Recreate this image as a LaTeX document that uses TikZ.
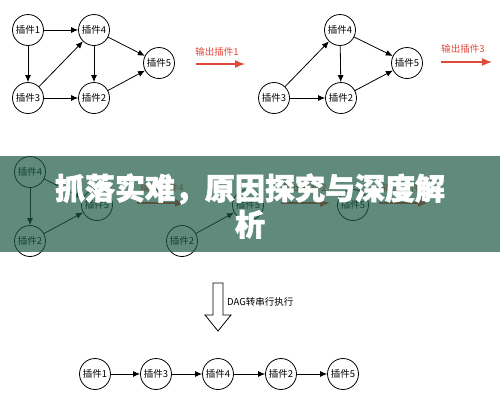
\documentclass[tikz,border=0pt]{standalone}
\usepackage{fontspec}
\setmainfont{Noto Sans CJK SC}
\newfontfamily\titlefont[BoldFeatures={FakeBold=2}]{Noto Sans CJK SC}
\usetikzlibrary{arrows.meta}
\definecolor{outred}{RGB}{224,72,58}
\definecolor{bandgreen}{RGB}{28,90,68}
\tikzset{
  plug/.style={circle, draw, line width=0.8pt, minimum size=31pt, inner sep=0pt, font=\fontsize{9.5}{10}\selectfont},
  dep/.style={-{Latex[length=7pt,width=6pt]}, line width=0.8pt},
  outarrow/.style={outred, -{Latex[length=10pt,width=8pt]}, line width=1.4pt},
  outlabel/.style={outred, font=\fontsize{9.5}{10}\selectfont, inner sep=0pt},
}
\begin{document}
\begin{tikzpicture}[x=1pt,y=-1pt]
\useasboundingbox (0,0) rectangle (500,408);
% ---- top left graph
\node[plug] (a1) at (28,30) {插件1};
\node[plug] (a4) at (94,30) {插件4};
\node[plug] (a5) at (159,63) {插件5};
\node[plug] (a3) at (28,98) {插件3};
\node[plug] (a2) at (94,98) {插件2};
\draw[dep] (a1) -- (a4);
\draw[dep] (a1) -- (a3);
\draw[dep] (a3) -- (a4);
\draw[dep] (a4) -- (a2);
\draw[dep] (a3) -- (a2);
\draw[dep] (a4) -- (a5);
\draw[dep] (a2) -- (a5);
\node[outlabel] (la) at (217,52) {输出插件1};
\coordinate (sa) at (196,64);
\coordinate (ea) at (245,64);
\draw[outarrow] (sa) -- (ea);
% ---- top right graph
\node[plug] (b4) at (340,30) {插件4};
\node[plug] (b5) at (407,63) {插件5};
\node[plug] (b3) at (274,98) {插件3};
\node[plug] (b2) at (341,98) {插件2};
\draw[dep] (b3) -- (b4);
\draw[dep] (b4) -- (b2);
\draw[dep] (b3) -- (b2);
\draw[dep] (b4) -- (b5);
\draw[dep] (b2) -- (b5);
\node[outlabel] (lb) at (463,49) {输出插件3};
\coordinate (sb) at (441,62);
\coordinate (eb) at (492,62);
\draw[outarrow] (sb) -- (eb);
% ---- row under the band
\node[plug] (c4) at (30,172) {插件4};
\node[plug] (c5) at (97,205) {插件5};
\node[plug] (c2) at (30,241) {插件2};
\draw[dep] (c4) -- (c2);
\draw[dep] (c4) -- (c5);
\draw[dep] (c2) -- (c5);
\node[outlabel] (lc) at (162,188) {输出插件4};
\coordinate (sc) at (137,203);
\coordinate (ec) at (185,203);
\draw[outarrow] (sc) -- (ec);
\node[plug] (d5) at (248,205) {插件5};
\node[plug] (d2) at (182,241) {插件2};
\draw[dep] (d2) -- (d5);
\node[outlabel] (ld) at (305,188) {输出插件2};
\coordinate (sd) at (281,203);
\coordinate (ed) at (330,203);
\draw[outarrow] (sd) -- (ed);
\node[plug] (e5) at (353,205) {插件5};
\node[outlabel] (le) at (404,188) {输出插件5};
\coordinate (se) at (379,203);
\coordinate (ee) at (428,203);
\draw[outarrow] (se) -- (ee);
% ---- band and title
\fill[bandgreen, opacity=0.7] (0,156) rectangle (500,252);
\node[text=white, font=\fontsize{30}{36}\selectfont\titlefont\bfseries, align=center, inner sep=0pt] (title) at (250,206) {抓落实难，原因探究与深度解\\析};
% ---- DAG hollow arrow
\draw[line width=0.8pt, fill=white] (213,283) -- (223,283) -- (223,315) -- (231,315) -- (218,331) -- (205,315) -- (213,315) -- cycle;
\node[anchor=west, font=\fontsize{9.5}{10}\selectfont, inner sep=0pt] (dag) at (227,302) {DAG转串行执行};
% ---- bottom row
\node[plug] (f1) at (95,374) {插件1};
\node[plug] (f3) at (156,374) {插件3};
\node[plug] (f4) at (218,374) {插件4};
\node[plug] (f2) at (281,374) {插件2};
\node[plug] (f5) at (343,374) {插件5};
\draw[dep] (f1) -- (f3);
\draw[dep] (f3) -- (f4);
\draw[dep] (f4) -- (f2);
\draw[dep] (f2) -- (f5);
\end{tikzpicture}
\end{document}
